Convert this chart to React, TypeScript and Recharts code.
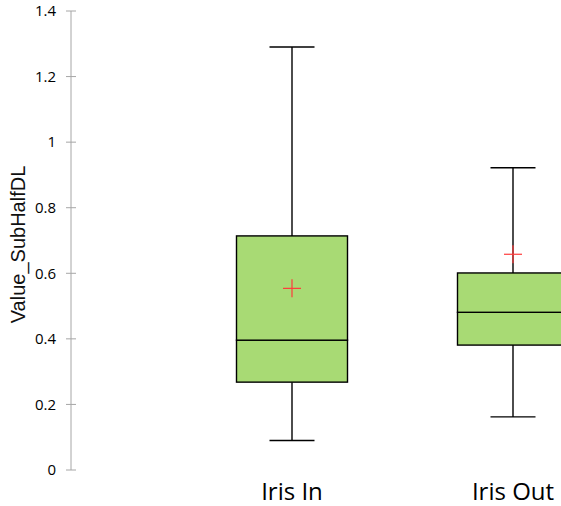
import { ComposedChart, Bar, Scatter, XAxis, YAxis } from "recharts";

// box plot values
const categories = ["Iris In", "Iris Out"];
const whiskerLow = [0.09, 0.162];
const q1 = [0.268, 0.381];
const median = [0.396, 0.481];
const q3 = [0.714, 0.601];
const whiskerHigh = [1.29, 0.922];
const means = [0.554, 0.658];
const yTicks = [0, 0.2, 0.4, 0.6, 0.8, 1, 1.2, 1.4];

const data = categories.map((name, i) => ({
    pos: i + 1,
    name,
    base: whiskerLow[i],
    lowWhisker: q1[i] - whiskerLow[i],
    lowBox: median[i] - q1[i],
    highBox: q3[i] - median[i],
    highWhisker: whiskerHigh[i] - q3[i],
    mean: means[i],
}));

const BOX_FILL = "#a8da74";
const CAP = 22.5;

const LowWhisker = (props: any) => {
    const { x, y, width, height } = props;
    const cx = x + width / 2;
    return (
        <g stroke="#000" strokeWidth={1.4}>
            <line x1={cx} y1={y} x2={cx} y2={y + height} />
            <line x1={cx - CAP} y1={y + height} x2={cx + CAP} y2={y + height} />
        </g>
    );
};

const HighWhisker = (props: any) => {
    const { x, y, width, height } = props;
    const cx = x + width / 2;
    return (
        <g stroke="#000" strokeWidth={1.4}>
            <line x1={cx} y1={y} x2={cx} y2={y + height} />
            <line x1={cx - CAP} y1={y} x2={cx + CAP} y2={y} />
        </g>
    );
};

const BoxPart = (props: any) => {
    const { x, y, width, height } = props;
    return <rect x={x} y={y} width={width} height={height} fill={BOX_FILL} stroke="#000" strokeWidth={1.4} />;
};

const MeanCross = (props: any) => {
    const { cx, cy } = props;
    return (
        <g stroke="#ff3b3b" strokeWidth={1.2}>
            <line x1={cx - 9} y1={cy} x2={cx + 9} y2={cy} />
            <line x1={cx} y1={cy - 9} x2={cx} y2={cy + 9} />
        </g>
    );
};

const YTick = (props: any) => {
    const { x, y, payload } = props;
    const label = String(Number(Number(payload.value).toFixed(1)));
    return (
        <g>
            <line x1={x - 5} y1={y} x2={x + 5} y2={y} stroke="#a6a6a6" strokeWidth={1} />
            <text x={x - 15} y={y} dy="0.35em" textAnchor="end" fontSize={15} fontFamily="Open Sans" fill="#000">
                {label}
            </text>
        </g>
    );
};

const YLabel = (props: any) => {
    const { viewBox } = props;
    const lx = viewBox.x + 18;
    const ly = viewBox.y + viewBox.height / 2 + 4;
    return (
        <text
            x={lx}
            y={ly}
            transform={`rotate(-90 ${lx} ${ly})`}
            textAnchor="middle"
            dominantBaseline="central"
            fontSize={20}
            fontFamily="Liberation Sans"
            fill="#111"
        >
            Value_SubHalfDL
        </text>
    );
};

export default function App() {
    return (
        <div style={{ position: "absolute", left: 0, top: 0, width: 561, height: 506, overflow: "hidden", background: "#fff" }}>
            <ComposedChart width={734} height={506} data={data} margin={{ top: 11, right: 0, bottom: 0, left: 0 }}>
                <XAxis
                    dataKey="pos"
                    type="number"
                    domain={[0, 3]}
                    ticks={[1, 2]}
                    tickFormatter={(v: number) => categories[v - 1] ?? ""}
                    axisLine={false}
                    tickLine={false}
                    tickMargin={7}
                    height={36}
                    tick={{ fontSize: 24, fontFamily: "Open Sans", fill: "#000" }}
                />
                <YAxis
                    type="number"
                    domain={[0, 1.4]}
                    ticks={yTicks}
                    width={71}
                    axisLine={{ stroke: "#a6a6a6" }}
                    tickLine={false}
                    tickSize={0}
                    tickMargin={0}
                    tick={<YTick />}
                    label={<YLabel />}
                />
                <Bar dataKey="base" stackId="box" fill="transparent" barSize={111} isAnimationActive={false} />
                <Bar dataKey="lowWhisker" stackId="box" barSize={111} shape={<LowWhisker />} isAnimationActive={false} />
                <Bar dataKey="lowBox" stackId="box" barSize={111} shape={<BoxPart />} isAnimationActive={false} />
                <Bar dataKey="highBox" stackId="box" barSize={111} shape={<BoxPart />} isAnimationActive={false} />
                <Bar dataKey="highWhisker" stackId="box" barSize={111} shape={<HighWhisker />} isAnimationActive={false} />
                <Scatter dataKey="mean" shape={<MeanCross />} isAnimationActive={false} />
            </ComposedChart>
        </div>
    );
}
